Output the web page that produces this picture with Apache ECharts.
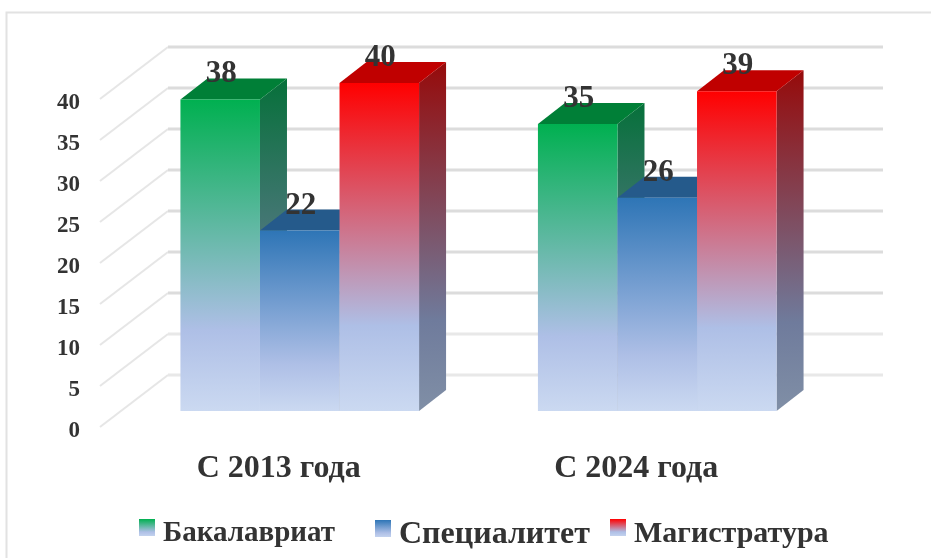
<!DOCTYPE html>
<html>
<head>
<meta charset="utf-8">
<style>
html,body{margin:0;padding:0;background:#fff;}
#chart{width:931px;height:558px;}
</style>
<script src="https://cdn.jsdelivr.net/npm/echarts@6/dist/echarts.min.js"></script>
</head>
<body>
<div id="chart"></div>
<script>
var categories = ['С 2013 года', 'С 2024 года'];
var bachelor = [38, 35];
var specialist = [22, 26];
var master = [40, 39];
var seriesNames = ['Бакалавриат', 'Специалитет', 'Магистратура'];
var yTicks = [0, 5, 10, 15, 20, 25, 30, 35, 40];

var font = '"Liberation Serif","Times New Roman",serif';
var textColor = '#333333';
var fadeStop = 0.74;             // where the fill turns pale blue, share of bar height
var labelDrop = 4;               // y tick labels sit this far under the wall's front edge
var wallDx = 68, wallDy = -52;   // front edge of floor -> back wall
var barDx = 21, barDy = -16;     // front edge of floor -> bar front
var depthDx = 27, depthDy = -21; // bar front -> bar back

var colors = [
    {front: '#00b050', side: '#06703a', top: '#007f37'},
    {front: '#2e75b6', side: '#1f4e79', top: '#255a8b'},
    {front: '#ff0000', side: '#960a0a', top: '#c00000'}
];
// the legend entries are not evenly spaced in the original
var legendLeft = [139, 375, 610];
var legendSize = [29, 32, 30];

function grad(c1, c2, c3){
    return {type: 'linear', x: 0, y: 0, x2: 0, y2: 1, colorStops: [
        {offset: 0, color: c1},
        {offset: fadeStop, color: c2},
        {offset: 1, color: c3}
    ]};
}

// legend marker: the swatch sits above the text's middle, so the lower part of the icon is see-through
function legendGrad(c){
    return {type: 'linear', x: 0, y: 0, x2: 0, y2: 1, colorStops: [
        {offset: 0, color: c},
        {offset: 0.43, color: '#aebfe6'},
        {offset: 0.566, color: '#c3d2ee'},
        {offset: 0.567, color: 'rgba(255,255,255,0)'},
        {offset: 1, color: 'rgba(255,255,255,0)'}
    ]};
}

function barSeries(idx, values){
    var c = colors[idx];
    return {
        name: seriesNames[idx],
        type: 'custom',
        z: 5 + idx,
        data: values.map(function(v, i){ return [i, v]; }),
        encode: {x: 0, y: 1},
        itemStyle: {color: c.front},
        renderItem: function(params, api){
            var cat = api.value(0), val = api.value(1);
            var band = api.size([1, 0])[0];
            var w = band * 0.2225;
            var top = api.coord([cat, val]);
            var base = api.coord([cat, 0]);
            var x0 = top[0] + barDx + (idx - 1.5) * w;
            var x1 = x0 + w;
            var yt = top[1] + barDy - labelDrop;
            var yb = base[1] + barDy - labelDrop;
            return {
                type: 'group',
                children: [
                    {type: 'polygon', shape: {points: [[x1, yt], [x1 + depthDx, yt + depthDy], [x1 + depthDx, yb + depthDy], [x1, yb]]},
                        style: {fill: grad(c.side, '#6f7b9c', '#808fa6')}},
                    {type: 'polygon', shape: {points: [[x0, yt], [x0 + depthDx, yt + depthDy], [x1 + depthDx, yt + depthDy], [x1, yt]]},
                        style: {fill: c.top}},
                    {type: 'rect', shape: {x: x0, y: yt, width: w, height: yb - yt},
                        style: {fill: grad(c.front, '#aebfe6', '#cbd9f1')}},
                    {type: 'text', z2: 50, style: {text: String(val), x: (x0 + x1) / 2 + 1, y: yt - 25, align: 'center', verticalAlign: 'middle',
                        font: 'bold 31px ' + font, fill: textColor}}
                ]
            };
        }
    };
}

var wallSeries = {
    type: 'custom',
    silent: true,
    z: 1,
    data: yTicks.map(function(v){ return [0, v]; }),
    encode: {x: 0, y: 1},
    renderItem: function(params, api){
        var v = api.value(1);
        var p = api.coord([0, v]);
        var band = api.size([1, 0])[0];
        var left = p[0] - band / 2;
        var frontY = p[1] - labelDrop;
        var backY = frontY + wallDy;
        // lines get lighter toward the floor in the original
        var col = v < 10 ? '#e8e8e8' : '#dcdcdc';
        return {
            type: 'group',
            children: [
                {type: 'line', shape: {x1: left, y1: frontY, x2: left + wallDx, y2: backY}, style: {stroke: '#e6e6e6', lineWidth: 2}},
                {type: 'line', shape: {x1: left + wallDx, y1: backY, x2: left + wallDx + band * 2, y2: backY}, style: {stroke: col, lineWidth: 3}}
            ]
        };
    }
};

var chart = echarts.init(document.getElementById('chart'), null, {renderer: 'canvas'});
chart.setOption({
    animation: false,
    backgroundColor: '#ffffff',
    textStyle: {fontFamily: font},
    // frame of the chart area, only top and left are in the picture
    graphic: [{
        type: 'polyline',
        silent: true,
        shape: {points: [[6.5, 558], [6.5, 12.5], [931, 12.5]]},
        style: {stroke: '#e2e2e2', lineWidth: 2, fill: null}
    }],
    grid: {left: 100, width: 715, top: 103, height: 328},
    xAxis: {
        type: 'category',
        data: categories,
        axisLine: {show: false},
        axisTick: {show: false},
        splitLine: {show: false},
        axisLabel: {color: textColor, fontSize: 32, fontWeight: 'bold', fontFamily: font, margin: 22}
    },
    yAxis: {
        type: 'value',
        min: 0,
        max: 40,
        interval: 5,
        axisLine: {show: false},
        axisTick: {show: false},
        splitLine: {show: false},
        axisLabel: {color: textColor, fontSize: 23, fontWeight: 'bold', fontFamily: font, margin: 20}
    },
    legend: seriesNames.map(function(name, i){
        return {
            data: [{name: name, itemStyle: {color: legendGrad(colors[i].front)}}],
            left: legendLeft[i],
            top: 519,
            padding: 0,
            itemWidth: 16,
            itemHeight: 30,
            icon: 'rect',
            textStyle: {color: textColor, fontSize: legendSize[i], fontWeight: 'bold', fontFamily: font, padding: [0, 0, 0, 3]}
        };
    }),
    series: [wallSeries, barSeries(0, bachelor), barSeries(1, specialist), barSeries(2, master)]
});
</script>
</body>
</html>
